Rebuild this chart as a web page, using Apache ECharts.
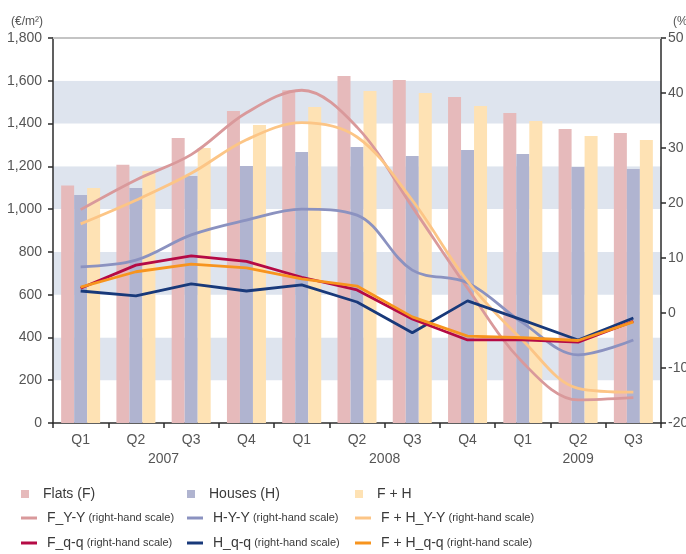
<!DOCTYPE html>
<html>
<head>
<meta charset="utf-8">
<script src="https://cdn.jsdelivr.net/npm/echarts@6/dist/echarts.min.js"></script>
<style>
  html, body { margin: 0; padding: 0; background: #fff; }
  #chart { width: 686px; height: 554px; }
</style>
</head>
<body>
<div id="chart"></div>
<script>
// quarters and years
var quarters = ['Q1', 'Q2', 'Q3', 'Q4', 'Q1', 'Q2', 'Q3', 'Q4', 'Q1', 'Q2', 'Q3'];
var years = ['2007', '2008', '2009'];
var yearQuarterCount = [4, 4, 3];

// price levels (€/m², left-hand scale)
var flats = [1110, 1207, 1333, 1459, 1556, 1622, 1604, 1524, 1449, 1374, 1356];
var houses = [1066, 1099, 1155, 1201, 1267, 1290, 1248, 1276, 1258, 1197, 1187];
var flatsHouses = [1099, 1178, 1286, 1393, 1477, 1552, 1543, 1482, 1412, 1342, 1323];

// changes in % (right-hand scale)
var fYY = [18.8, 24.2, 28.8, 36.4, 40.5, 33.8, 19.3, 4.5, -9.0, -15.8, -15.4];
var hYY = [8.4, 9.6, 14.2, 16.9, 18.9, 17.8, 7.8, 5.5, -1.8, -7.6, -4.9];
var fhYY = [16.2, 20.5, 25.4, 31.5, 34.6, 32.0, 20.5, 5.8, -5.0, -13.7, -14.4];
var fQQ = [4.5, 8.7, 10.4, 9.4, 6.5, 4.2, -1.1, -4.9, -4.9, -5.3, -1.5];
var hQQ = [4.0, 3.1, 5.3, 4.0, 5.1, 2.0, -3.6, 2.2, -1.3, -4.9, -0.9];
var fhQQ = [4.7, 7.5, 8.9, 8.2, 6.2, 4.9, -0.7, -4.2, -4.5, -5.0, -1.6];

var leftTicks = {min: 0, max: 1800, interval: 200};
var rightTicks = {min: -20, max: 50, interval: 10};

var FONT = '"Liberation Sans", Arial, sans-serif';
var GREY = '#555555';

// year label positions in half-quarter units
var yearPos = {};
var start = 0;
for (var i = 0; i < years.length; i++) {
    yearPos[start * 2 + yearQuarterCount[i]] = years[i];
    start += yearQuarterCount[i];
}

var chart = echarts.init(document.getElementById('chart'));

function barSeries(name, data, color) {
    return {
        name: name,
        type: 'bar',
        xAxisIndex: 0,
        yAxisIndex: 0,
        barWidth: 13,
        barGap: '0%',
        data: data,
        itemStyle: {color: color},
        silent: true
    };
}

function lineSeries(name, data, color, smooth) {
    return {
        name: name,
        type: 'line',
        xAxisIndex: 0,
        yAxisIndex: 1,
        data: data,
        smooth: smooth,
        symbol: 'none',
        lineStyle: {color: color, width: 2.8},
        itemStyle: {color: color},
        silent: true
    };
}

var series = [
    barSeries('Flats (F)', flats, '#e6babb'),
    barSeries('Houses (H)', houses, '#b0b4d0'),
    barSeries('F + H', flatsHouses, '#fee2b4'),
    lineSeries('F_Y-Y', fYY, '#d9999b', 0.35),
    lineSeries('H-Y-Y', hYY, '#8b92c0', 0.35),
    lineSeries('F + H_Y-Y', fhYY, '#fcc586', 0.35),
    lineSeries('H_q-q', hQQ, '#18397a', false),
    lineSeries('F_q-q', fQQ, '#b50a45', false),
    lineSeries('F + H_q-q', fhQQ, '#f7941e', false)
];

// legend grid: 3 rows x 3 columns
var legendOrder = ['Flats (F)', 'Houses (H)', 'F + H',
                   'F_Y-Y', 'H-Y-Y', 'F + H_Y-Y',
                   'F_q-q', 'H_q-q', 'F + H_q-q'];
var colLeft = [21, 187, 355];
var rowMid = [497, 521, 546];
var legends = [];
for (var k = 0; k < legendOrder.length; k++) {
    var row = Math.floor(k / 3), col = k % 3;
    var isBar = row === 0;
    legends.push({
        data: [legendOrder[k]],
        left: colLeft[col],
        top: rowMid[row] - 10,
        padding: 0,
        itemWidth: 16,
        itemHeight: isBar ? 8 : 3,
        icon: isBar ? 'path://M0,0H10V10H0Z' : 'rect',
        symbolKeepAspect: true,
        selectedMode: false,
        formatter: isBar ? '{a|{name}}' : '{a|{name}}{b| (right-hand scale)}',
        textStyle: {
            padding: [0, 0, 0, 5],
            rich: {
                a: {fontFamily: FONT, fontSize: 14, color: '#3a3a3a', lineHeight: 20},
                b: {fontFamily: FONT, fontSize: 11, color: '#3a3a3a', lineHeight: 20}
            }
        }
    });
}

chart.setOption({
    animation: false,
    grid: {left: 53, right: 25, top: 38, bottom: 131, containLabel: false, outerBoundsMode: 'none'},
    legend: legends,
    xAxis: [
        {
            type: 'category',
            data: quarters,
            position: 'bottom',
            axisLine: {lineStyle: {color: '#2b2b2b', width: 1.5}},
            axisTick: {show: true, length: 5, lineStyle: {color: '#2b2b2b', width: 1.5}},
            axisLabel: {color: GREY, fontFamily: FONT, fontSize: 14, margin: 10},
            splitLine: {show: false}
        },
        {
            type: 'value',
            min: 0,
            max: quarters.length * 2,
            interval: 1,
            position: 'bottom',
            offset: 19,
            axisLine: {show: false},
            axisTick: {show: false},
            splitLine: {show: false},
            axisLabel: {
                color: GREY, fontFamily: FONT, fontSize: 14, margin: 10,
                formatter: function (v) { return yearPos[v] || ''; }
            }
        },
        {
            type: 'category',
            data: quarters,
            position: 'top',
            axisLine: {lineStyle: {color: '#c4c4c4', width: 2}},
            axisTick: {show: false},
            axisLabel: {show: false},
            splitLine: {show: false}
        }
    ],
    yAxis: [
        {
            type: 'value',
            min: leftTicks.min,
            max: leftTicks.max,
            interval: leftTicks.interval,
            position: 'left',
            name: '(€/m²)',
            nameLocation: 'end',
            nameGap: 16,
            nameTextStyle: {color: GREY, fontFamily: FONT, fontSize: 12, align: 'right', verticalAlign: 'middle', padding: [0, 10, 0, 0]},
            axisLine: {show: true, lineStyle: {color: '#2b2b2b', width: 1.5}},
            axisTick: {show: true, length: 5, inside: false, lineStyle: {color: '#2b2b2b', width: 1.5}},
            axisLabel: {
                color: GREY, fontFamily: FONT, fontSize: 14, margin: 11,
                formatter: function (v) { return v.toLocaleString('en-US'); }
            },
            splitLine: {show: false},
            splitArea: {show: true, areaStyle: {color: ['#ffffff', '#dee4ee']}}
        },
        {
            type: 'value',
            min: rightTicks.min,
            max: rightTicks.max,
            interval: rightTicks.interval,
            position: 'right',
            name: '(%)',
            nameLocation: 'end',
            nameGap: 16,
            nameTextStyle: {color: GREY, fontFamily: FONT, fontSize: 12, align: 'left', verticalAlign: 'middle', padding: [0, 0, 0, 12]},
            axisLine: {show: true, lineStyle: {color: '#2b2b2b', width: 1.5}},
            axisTick: {show: true, length: 5, lineStyle: {color: '#2b2b2b', width: 1.5}},
            axisLabel: {color: GREY, fontFamily: FONT, fontSize: 14, margin: 7},
            splitLine: {show: false},
            splitArea: {show: false}
        }
    ],
    series: series
});
</script>
</body>
</html>
